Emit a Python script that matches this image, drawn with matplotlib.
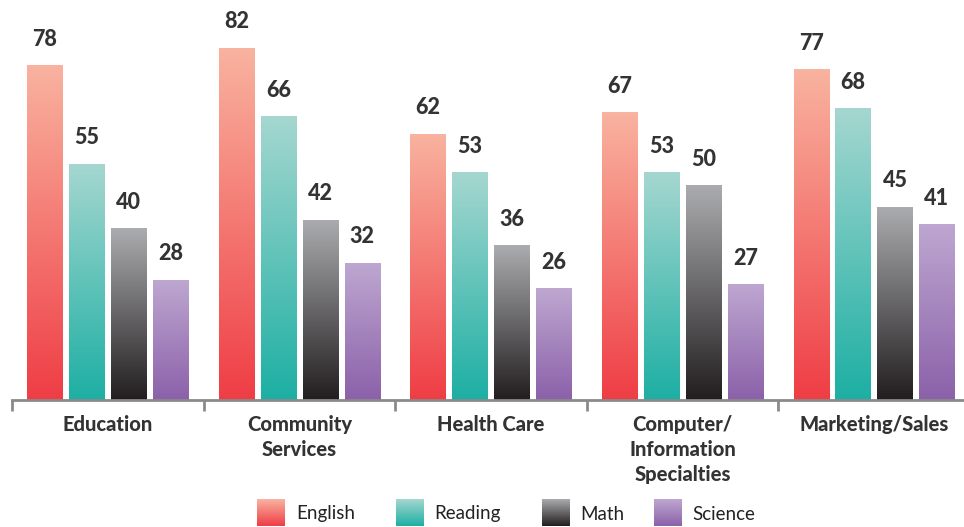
import numpy as np
import matplotlib.pyplot as plt
from matplotlib.colors import LinearSegmentedColormap

# data
categories = ["Education", "Community\nServices", "Health Care",
              "Computer/\nInformation\nSpecialties", "Marketing/Sales"]
subjects = ["English", "Reading", "Math", "Science"]
english = [78, 82, 62, 67, 77]
reading = [55, 66, 53, 53, 68]
math = [40, 42, 36, 50, 45]
science = [28, 32, 26, 27, 41]

# gradient colours (top, bottom)
grads = [("#F9B3A0", "#EF3D45"),
         ("#A5D7D0", "#1DAFA3"),
         ("#ABACAF", "#221E1F"),
         ("#BEA7D1", "#8B61A9")]

plt.rcParams['font.family'] = ['Lato', 'DejaVu Sans']

W, H = 964, 527
fig = plt.figure(figsize=(W / 100, H / 100), dpi=100)
ax = fig.add_axes([12 / W, 127 / H, 952 / W, 400 / H])

x = np.arange(len(categories))
step = 0.219
width = 0.183
grad = np.linspace(1, 0, 256).reshape(-1, 1)

series = [english, reading, math, science]
for k, vals in enumerate(series):
    cmap = LinearSegmentedColormap.from_list(subjects[k], [grads[k][1], grads[k][0]])
    pos = x + (k - 1.5) * step
    bars = ax.bar(pos, vals, width, color="none", edgecolor="none")
    for b, v in zip(bars, vals):
        x0 = b.get_x()
        im = ax.imshow(grad, cmap=cmap, aspect="auto", vmin=0, vmax=1,
                       extent=[x0, x0 + width, 0, v], zorder=2)
        im.set_clip_path(b)
        ax.annotate(str(v), (x0 + width / 2, v), xytext=(0, 11),
                    textcoords="offset points", ha="center", va="bottom",
                    fontsize=15.5, fontweight="black", color="#333333")

for s in ["top", "right", "left"]:
    ax.spines[s].set_visible(False)
ax.spines["bottom"].set_color("#8a8a8a")
ax.spines["bottom"].set_linewidth(2)
ax.set_yticks([])

ax.set_xticks(np.arange(len(categories)) - 0.5)
ax.set_xticklabels([])
ax.tick_params(axis="x", which="major", length=8, width=2, color="#8a8a8a", direction="out")
ax.set_xticks(x, minor=True)
ax.set_xticklabels(categories, minor=True, fontsize=14.5, fontweight="black",
                   color="#333333", linespacing=1.38, va="top")
ax.tick_params(axis="x", which="minor", length=0, pad=11)

ax.set_xlim(-0.5, 4.47)
ax.set_ylim(0, 93.1)

# legend with gradient swatches
legend_px = [(257, 296), (396, 434), (542, 580), (654, 692)]
for k, name in enumerate(subjects):
    px, tx = legend_px[k]
    cmap = LinearSegmentedColormap.from_list(name + "_l", [grads[k][1], grads[k][0]])
    lax = fig.add_axes([px / W, 1 / H, 28 / W, 27 / H])
    lax.imshow(grad, cmap=cmap, aspect="auto", vmin=0, vmax=1)
    lax.axis("off")
    fig.text(tx / W, 13 / H, name, fontsize=13.5, color="#222222", va="center", ha="left")

fig.savefig("out.png", dpi=100)
